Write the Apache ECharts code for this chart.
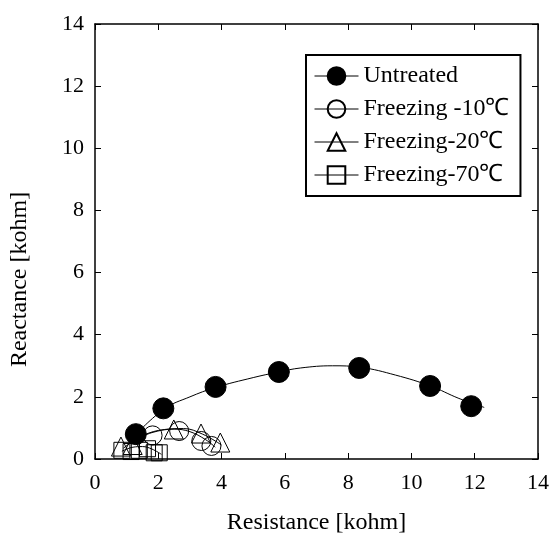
<!DOCTYPE html>
<html>
<head>
<meta charset="utf-8">
<script src="https://cdn.jsdelivr.net/npm/echarts@6/dist/echarts.min.js"></script>
<style>
  html, body { margin: 0; padding: 0; background: #fff; }
  #main { width: 554px; height: 540px; }
</style>
</head>
<body>
<div id="main"></div>
<script>
// 测量点 [Resistance, Reactance]
var names = ['Untreated', 'Freezing -10℃', 'Freezing-20℃', 'Freezing-70℃'];
var untreated = [[1.29, 0.80], [2.16, 1.63], [3.81, 2.32], [5.81, 2.80], [8.35, 2.93], [10.59, 2.35], [11.89, 1.70]];
var freeze10 = [[1.82, 0.76], [2.66, 0.90], [3.36, 0.58], [3.68, 0.42]];
var freeze20 = [[0.82, 0.40], [1.19, 0.45], [2.49, 0.95], [3.35, 0.82], [3.96, 0.53]];
var freeze70 = [[0.85, 0.28], [1.14, 0.24], [1.40, 0.28], [1.66, 0.33], [1.87, 0.20], [2.03, 0.20]];

// 拟合曲线
var fitUntreated = [[1.3, 0.80], [2.2, 1.62], [3.0, 2.0], [3.8, 2.3], [5.0, 2.62], [5.8, 2.8], [6.5, 2.93], [7.5, 3.0], [8.4, 2.95], [9.5, 2.7], [10.6, 2.35], [11.5, 1.95], [12.3, 1.66]];
var fit10 = [[1.3, 0.62], [1.8, 0.85], [2.5, 0.96], [3.0, 0.88], [3.5, 0.62], [3.8, 0.38]];
var fit20 = [[0.9, 0.35], [1.5, 0.75], [2.2, 0.95], [2.8, 0.98], [3.4, 0.8], [4.0, 0.45]];
var fit70 = [[0.85, 0.25], [1.2, 0.38], [1.5, 0.40], [1.8, 0.32], [2.1, 0.15]];

var ticks = [0, 2, 4, 6, 8, 10, 12, 14];

var font = 'Liberation Serif, Times New Roman, serif';

function axisBase(show) {
  return {
    type: 'value',
    min: ticks[0],
    max: ticks[ticks.length - 1],
    interval: 2,
    axisLine: { show: true, onZero: false, lineStyle: { color: '#000', width: 1.5 } },
    axisTick: { show: true, inside: true, length: 6, lineStyle: { color: '#000', width: 1 } },
    axisLabel: { show: show, color: '#000', fontSize: 22, fontFamily: font, margin: 11 },
    splitLine: { show: false }
  };
}

var xMain = axisBase(true);
xMain.position = 'bottom';
xMain.axisLabel.margin = 13;
xMain.name = 'Resistance [kohm]';
xMain.nameLocation = 'middle';
xMain.nameGap = 52;
xMain.nameTextStyle = { color: '#000', fontSize: 24, fontFamily: font };
var xTop = axisBase(false);
xTop.position = 'top';

var yMain = axisBase(true);
yMain.position = 'left';
yMain.name = 'Reactance [kohm]';
yMain.nameLocation = 'middle';
yMain.nameGap = 63;
// 名称略微偏下
yMain.nameTextStyle = { color: '#000', fontSize: 24, fontFamily: font, padding: [0, 76, 0, 0] };
var yRight = axisBase(false);
yRight.position = 'right';

function pointSeries(name, data, symbol, size, filled) {
  return {
    name: name,
    type: 'line',
    data: data,
    symbol: symbol,
    symbolSize: size,
    showAllSymbol: true,
    z: 5,
    lineStyle: { width: 0, opacity: 0 },
    itemStyle: { color: filled ? '#000' : 'rgba(255,255,255,0)', borderColor: '#000', borderWidth: 1, opacity: 1 }
  };
}

function fitSeries(data) {
  return {
    type: 'line',
    data: data,
    smooth: 0.4,
    symbol: 'none',
    silent: true,
    z: 3,
    lineStyle: { color: '#000', width: 1 }
  };
}

var chart = echarts.init(document.getElementById('main'));
var option = {
  animation: false,
  backgroundColor: '#fff',
  grid: { left: 93, right: 16, top: 24, bottom: 78 },
  xAxis: [xMain, xTop],
  yAxis: [yMain, yRight],
  legend: {
    data: names,
    orient: 'vertical',
    left: 306,
    top: 55,
    itemWidth: 44,
    itemHeight: 22,
    itemGap: 9,
    padding: [9, 11, 9, 8],
    borderColor: '#000',
    borderWidth: 2,
    textStyle: { color: '#000', fontSize: 24, fontFamily: font },
    lineStyle: { color: '#000', width: 1, opacity: 1 }
  },
  series: [
    fitSeries(fitUntreated),
    fitSeries(fit10),
    fitSeries(fit20),
    fitSeries(fit70),
    pointSeries(names[0], untreated, 'circle', 21, true),
    pointSeries(names[1], freeze10, 'circle', 19, false),
    pointSeries(names[2], freeze20, 'triangle', 19, false),
    pointSeries(names[3], freeze70, 'rect', 16, false)
  ]
};
chart.setOption(option);

window.addEventListener('resize', function () {
  chart.resize();
});
</script>
</body>
</html>
